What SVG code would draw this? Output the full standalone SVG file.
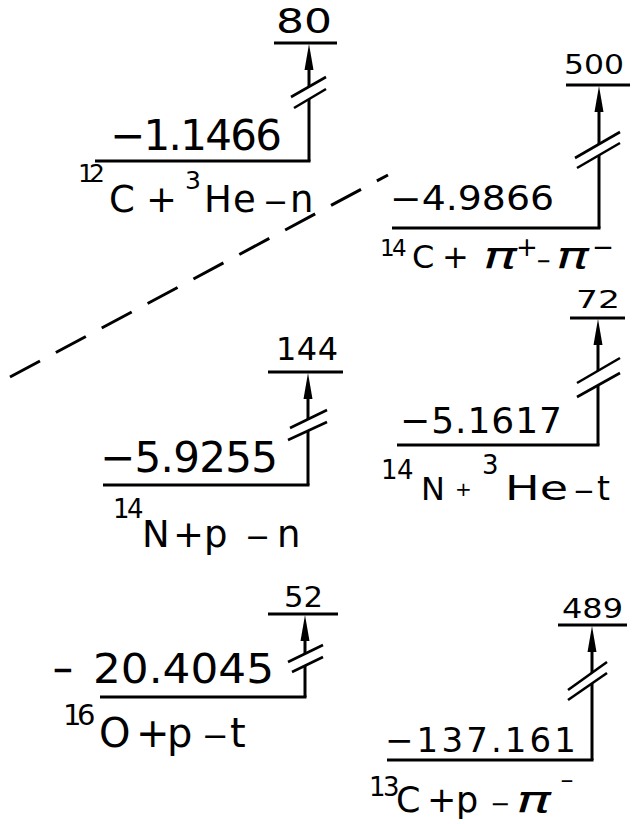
<svg xmlns="http://www.w3.org/2000/svg" xmlns:xlink="http://www.w3.org/1999/xlink" width="638" height="824" viewBox="0 0 638 824">
<style>
text{font-family:"DejaVu Sans","Liberation Sans",sans-serif;fill:#000}
.pi{font-style:italic}
.ln{stroke:#000;stroke-width:3;fill:none;stroke-linecap:butt}
.bk{stroke:#000;stroke-width:2.6;fill:none}
.ah{fill:#000}
.dash{stroke:#000;stroke-width:3;fill:none;stroke-dasharray:34 18}
</style>
<defs>
<path id="ah" class="ah" d="M0,0 L-4.5,26 L4.5,26 Z"/>
</defs>
<rect width="638" height="824" fill="#fff"/>

<g id="n80">
<line class="ln" x1="274" y1="43" x2="337" y2="43"/>
<text x="276" y="33" font-size="34" textLength="56" lengthAdjust="spacingAndGlyphs">80</text>
<line class="ln" x1="95" y1="161" x2="310.5" y2="161"/>
<text x="110" y="150" font-size="42" textLength="172" lengthAdjust="spacing">−1.1466</text>
<text x="78 89" y="182" font-size="25">12</text>
<text x="109 146" y="212" font-size="37">C+</text>
<text x="185" y="189" font-size="25">3</text>
<text x="204 233" y="212" font-size="37">He</text>
<text x="263" y="212" font-size="30">−</text>
<text x="290" y="212" font-size="37">n</text>
</g>

<g id="n500">
<line class="ln" x1="566" y1="85" x2="630" y2="85"/>
<text x="564" y="74" font-size="26" textLength="60" lengthAdjust="spacingAndGlyphs">500</text>
<line class="ln" x1="392" y1="228" x2="600.5" y2="228"/>
<text x="390" y="210" font-size="33" textLength="164" lengthAdjust="spacingAndGlyphs">−4.9866</text>
<text x="380 392" y="256" font-size="23">14</text>
<text x="412 442" y="268" font-size="32">C+</text>
<text class="pi" x="483" y="268" font-size="38" textLength="34" lengthAdjust="spacingAndGlyphs">π</text>
<text x="516" y="256" font-size="26">+</text>
<text x="536" y="269" font-size="24" textLength="15" lengthAdjust="spacingAndGlyphs">−</text>
<text class="pi" x="556" y="268" font-size="38" textLength="33" lengthAdjust="spacingAndGlyphs">π</text>
<text x="592" y="256" font-size="26" textLength="22" lengthAdjust="spacingAndGlyphs">−</text>
</g>

<g id="n144">
<line class="ln" x1="268" y1="372" x2="343" y2="372"/>
<text x="276" y="360" font-size="32" textLength="62" lengthAdjust="spacing">144</text>
<line class="ln" x1="103" y1="485" x2="309.5" y2="485"/>
<text x="100" y="472" font-size="42" textLength="178" lengthAdjust="spacing">−5.9255</text>
<text x="113 127" y="518" font-size="26">14</text>
<text x="142 173 204" y="547" font-size="37">N+p</text>
<text x="245" y="547" font-size="30">−</text>
<text x="277" y="547" font-size="37">n</text>
</g>

<g id="n72">
<line class="ln" x1="570" y1="318" x2="625" y2="318"/>
<text x="576" y="308" font-size="25" textLength="44" lengthAdjust="spacingAndGlyphs">72</text>
<line class="ln" x1="397" y1="445" x2="599.5" y2="445"/>
<text x="400" y="433" font-size="36" textLength="162" lengthAdjust="spacing">−5.1617</text>
<text x="381 397" y="479" font-size="26">14</text>
<text x="421" y="500" font-size="32">N</text>
<text x="455" y="496" font-size="20">+</text>
<text x="482" y="474" font-size="26">3</text>
<text x="505" y="500" font-size="33" textLength="63" lengthAdjust="spacingAndGlyphs">He</text>
<text x="573" y="500" font-size="26">−</text>
<text x="597" y="500" font-size="33">t</text>
</g>

<g id="n52">
<line class="ln" x1="268" y1="614" x2="338" y2="614"/>
<text x="284" y="607" font-size="28" textLength="39" lengthAdjust="spacingAndGlyphs">52</text>
<line class="ln" x1="100" y1="697" x2="306.5" y2="697"/>
<text x="52" y="683" font-size="40" textLength="22" lengthAdjust="spacingAndGlyphs">−</text>
<text x="93" y="683" font-size="40" textLength="181" lengthAdjust="spacingAndGlyphs">20.4045</text>
<text x="63 77" y="725" font-size="29">16</text>
<text x="99 136 167" y="747" font-size="40">O+p</text>
<text x="202" y="747" font-size="32">−</text>
<text x="230" y="747" font-size="40">t</text>
</g>

<g id="n489">
<line class="ln" x1="558" y1="625" x2="627" y2="625"/>
<text x="562" y="618" font-size="26" textLength="61" lengthAdjust="spacingAndGlyphs">489</text>
<line class="ln" x1="387" y1="760" x2="593.5" y2="760"/>
<text x="385" y="752" font-size="34" textLength="191" lengthAdjust="spacing">−137.161</text>
<text x="369 383" y="796" font-size="26">13</text>
<text x="396 427 456" y="812" font-size="35">C+p</text>
<text x="490" y="812" font-size="24">−</text>
<text class="pi" x="516" y="812" font-size="38" textLength="35" lengthAdjust="spacingAndGlyphs">π</text>
<text x="560" y="788" font-size="22" textLength="14" lengthAdjust="spacingAndGlyphs">−</text>
</g>

<g id="connectors">
<line class="ln" x1="309" y1="60" x2="309" y2="87"/>
<line class="ln" x1="309" y1="99" x2="309" y2="161"/>
<use xlink:href="#ah" x="309" y="44"/>
<line class="bk" x1="291" y1="97" x2="326" y2="77"/>
<line class="bk" x1="294" y1="108" x2="326" y2="89"/>

<line class="ln" x1="599" y1="100" x2="599" y2="144"/>
<line class="ln" x1="599" y1="155" x2="599" y2="228"/>
<use xlink:href="#ah" x="599" y="86"/>
<line class="bk" x1="575" y1="158" x2="620" y2="132"/>
<line class="bk" x1="577" y1="168" x2="620" y2="143"/>

<line class="ln" x1="308" y1="390" x2="308" y2="419"/>
<line class="ln" x1="308" y1="431" x2="308" y2="485"/>
<use xlink:href="#ah" x="308" y="373"/>
<line class="bk" x1="290" y1="428" x2="327" y2="410"/>
<line class="bk" x1="288" y1="440" x2="327" y2="422"/>

<line class="ln" x1="598" y1="335" x2="598" y2="371"/>
<line class="ln" x1="598" y1="385" x2="598" y2="445"/>
<use xlink:href="#ah" x="598" y="319"/>
<line class="bk" x1="577" y1="383" x2="620" y2="358"/>
<line class="bk" x1="577" y1="397" x2="620" y2="373"/>

<line class="ln" x1="305" y1="630" x2="305" y2="654"/>
<line class="ln" x1="305" y1="666" x2="305" y2="697"/>
<use xlink:href="#ah" x="305" y="615"/>
<line class="bk" x1="288" y1="662" x2="323" y2="645"/>
<line class="bk" x1="292" y1="672" x2="323" y2="657"/>

<line class="ln" x1="592" y1="645" x2="592" y2="673"/>
<line class="ln" x1="592" y1="683" x2="592" y2="760"/>
<use xlink:href="#ah" x="592" y="626"/>
<line class="bk" x1="568" y1="690" x2="607" y2="662"/>
<line class="bk" x1="568" y1="700" x2="607" y2="673"/>

<line class="dash" x1="10" y1="377" x2="388" y2="175"/>
</g>
</svg>
